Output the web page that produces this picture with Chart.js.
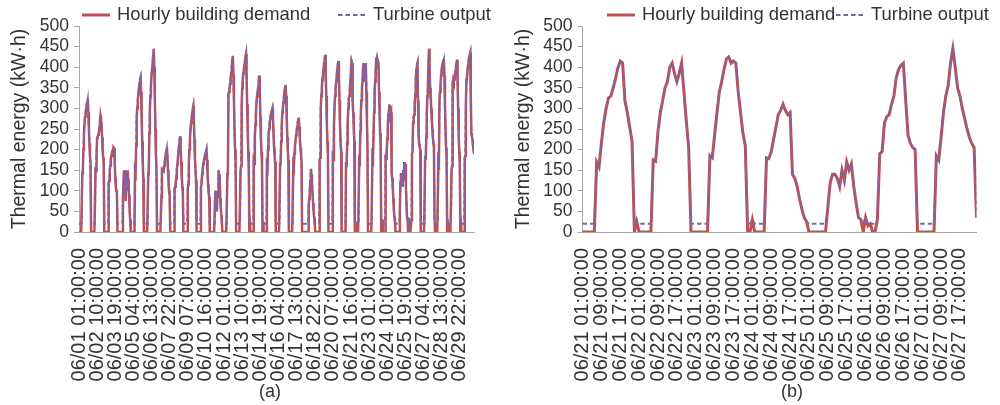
<!DOCTYPE html>
<html>
<head>
<meta charset="utf-8">
<script src="https://cdn.jsdelivr.net/npm/chart.js@4.4.1/dist/chart.umd.min.js"></script>
<style>
  html, body { margin: 0; padding: 0; background: #ffffff; }
  #wrap { position: relative; width: 1000px; height: 405px; overflow: hidden; }
  canvas { position: absolute; top: 0; }
  #month { left: 0; }
  #week { left: 500px; }
</style>
</head>
<body>
<div id="wrap">
  <canvas id="month" width="500" height="405"></canvas>
  <canvas id="week" width="500" height="405"></canvas>
</div>
<script>
// Hourly thermal energy, June, kW·h. One row per day, hours 01:00 ... 24:00.
const buildingDemand = [
  /* 06/01 */ 0,0,0,0,0,0,142,150,200,238,262,280,288,300,310,315,323,290,250,215,185,165,0,0,
  /* 06/02 */ 0,0,0,0,0,0,150,148,190,228,232,236,240,250,268,283,275,262,230,200,180,168,0,0,
  /* 06/03 */ 0,0,0,0,0,0,118,125,150,162,178,185,192,198,200,205,203,170,130,110,100,95,0,0,
  /* 06/04 */ 0,0,0,0,0,0,0,0,85,120,150,95,150,75,140,100,150,115,130,90,60,30,0,0,
  /* 06/05 */ 0,0,0,0,0,0,150,145,210,280,300,320,335,350,360,370,375,340,280,220,170,130,0,0,
  /* 06/06 */ 0,0,0,0,0,0,140,150,240,300,330,360,380,395,410,430,445,400,330,250,190,150,0,0,
  /* 06/07 */ 0,0,0,0,0,0,85,150,148,152,150,160,170,180,190,198,205,180,150,120,100,90,0,0,
  /* 06/08 */ 0,0,0,0,0,0,105,110,118,130,150,165,180,195,210,222,232,205,170,135,110,95,0,0,
  /* 06/09 */ 0,0,0,0,0,0,105,115,170,200,230,250,265,278,290,298,305,275,225,180,150,125,0,0,
  /* 06/10 */ 0,0,0,0,0,0,110,115,140,150,165,170,178,184,190,195,200,175,140,115,95,85,0,0,
  /* 06/11 */ 0,0,0,0,0,0,0,0,100,60,95,50,100,85,150,120,140,80,60,40,22,0,0,0,
  /* 06/12 */ 0,0,0,0,0,0,140,145,335,340,350,360,375,385,400,418,428,380,320,250,200,170,0,0,
  /* 06/13 */ 0,0,0,0,0,0,150,160,300,350,370,385,395,405,415,425,432,380,310,250,195,155,0,30,
  /* 06/14 */ 0,0,0,0,0,0,170,165,230,260,290,315,330,340,350,365,380,345,280,230,195,170,0,25,
  /* 06/15 */ 0,0,0,0,0,0,160,155,200,235,250,265,275,285,290,295,300,275,240,205,185,170,0,0,
  /* 06/16 */ 0,0,0,0,0,0,165,170,220,260,290,300,315,330,340,350,357,330,280,230,200,175,0,0,
  /* 06/17 */ 0,0,0,0,0,0,165,160,190,210,220,235,245,255,265,272,278,255,225,205,190,170,0,0,
  /* 06/18 */ 0,0,0,0,0,0,0,0,0,0,65,80,100,125,153,140,120,95,70,50,35,20,0,0,
  /* 06/19 */ 0,0,0,0,0,0,175,180,300,330,350,370,385,395,410,420,430,385,330,270,220,190,0,0,
  /* 06/20 */ 0,0,0,0,0,0,180,175,260,300,330,350,365,380,395,405,415,380,320,260,220,195,0,0,
  /* 06/21 */ 0,0,0,0,0,0,170,158,215,265,300,325,330,350,372,398,415,410,318,290,255,220,0,25,
  /* 06/22 */ 0,0,0,0,0,0,175,172,245,290,320,350,365,400,410,385,365,385,410,340,270,205,0,0,
  /* 06/23 */ 0,0,0,0,0,0,185,180,235,290,340,365,395,420,425,410,415,410,340,290,240,210,0,0,
  /* 06/24 */ 30,0,0,0,0,0,180,178,195,225,255,285,295,310,295,285,290,140,130,110,80,55,35,25,
  /* 06/25 */ 0,0,0,0,0,0,0,0,60,120,140,140,130,110,150,125,170,150,165,110,70,35,30,0,
  /* 06/26 */ 35,15,20,0,0,30,190,195,265,280,285,310,330,375,395,405,410,320,235,215,205,200,0,0,
  /* 06/27 */ 0,0,0,0,0,0,185,175,230,290,330,355,410,445,400,350,330,300,275,250,230,215,205,35,
  /* 06/28 */ 0,0,0,0,0,0,175,170,320,340,360,380,395,405,410,415,420,380,310,250,205,180,0,30,
  /* 06/29 */ 0,0,0,0,0,0,150,160,360,370,365,370,380,390,400,410,418,370,300,235,195,170,0,30,
  /* 06/30 */ 0,0,0,0,0,0,180,185,300,370,375,390,405,415,425,430,435,330,240,232,225,210,200,190
];

const turbineOutput = [
  /* 06/01 */ 20,20,20,20,20,20,142,150,200,238,262,280,288,300,310,315,323,290,250,215,185,165,20,20,
  /* 06/02 */ 20,20,20,20,20,20,150,148,190,228,232,236,240,250,268,283,275,262,230,200,180,168,20,20,
  /* 06/03 */ 20,20,20,20,20,20,118,125,150,162,178,185,192,198,200,205,203,170,130,110,100,95,20,20,
  /* 06/04 */ 20,20,20,20,20,20,20,20,85,120,150,95,150,75,140,100,150,115,130,90,60,30,20,20,
  /* 06/05 */ 20,20,20,20,20,20,150,145,210,280,300,320,335,350,360,370,375,340,280,220,170,130,20,20,
  /* 06/06 */ 20,20,20,20,20,20,140,150,240,300,330,360,380,395,410,430,445,400,330,250,190,150,20,20,
  /* 06/07 */ 20,20,20,20,20,20,85,150,148,152,150,160,170,180,190,198,205,180,150,120,100,90,20,20,
  /* 06/08 */ 20,20,20,20,20,20,105,110,118,130,150,165,180,195,210,222,232,205,170,135,110,95,20,20,
  /* 06/09 */ 20,20,20,20,20,20,105,115,170,200,230,250,265,278,290,298,305,275,225,180,150,125,20,20,
  /* 06/10 */ 20,20,20,20,20,20,110,115,140,150,165,170,178,184,190,195,200,175,140,115,95,85,20,20,
  /* 06/11 */ 20,20,20,20,20,20,20,20,100,60,95,50,100,85,150,120,140,80,60,40,22,20,20,20,
  /* 06/12 */ 20,20,20,20,20,20,140,145,335,340,350,360,375,385,400,418,428,380,320,250,200,170,20,20,
  /* 06/13 */ 20,20,20,20,20,20,150,160,300,350,370,385,395,405,415,425,432,380,310,250,195,155,20,30,
  /* 06/14 */ 20,20,20,20,20,20,170,165,230,260,290,315,330,340,350,365,380,345,280,230,195,170,20,25,
  /* 06/15 */ 20,20,20,20,20,20,160,155,200,235,250,265,275,285,290,295,300,275,240,205,185,170,20,20,
  /* 06/16 */ 20,20,20,20,20,20,165,170,220,260,290,300,315,330,340,350,357,330,280,230,200,175,20,20,
  /* 06/17 */ 20,20,20,20,20,20,165,160,190,210,220,235,245,255,265,272,278,255,225,205,190,170,20,20,
  /* 06/18 */ 20,20,20,20,20,20,20,20,20,20,65,80,100,125,153,140,120,95,70,50,35,20,20,20,
  /* 06/19 */ 20,20,20,20,20,20,175,180,300,330,350,370,385,395,410,420,430,385,330,270,220,190,20,20,
  /* 06/20 */ 20,20,20,20,20,20,180,175,260,300,330,350,365,380,395,405,415,380,320,260,220,195,20,20,
  /* 06/21 */ 20,20,20,20,20,20,170,158,215,265,300,325,330,350,372,398,415,410,318,290,255,220,20,25,
  /* 06/22 */ 20,20,20,20,20,20,175,172,245,290,320,350,365,400,410,385,365,385,410,340,270,205,20,20,
  /* 06/23 */ 20,20,20,20,20,20,185,180,235,290,340,365,395,420,425,410,415,410,340,290,240,210,20,20,
  /* 06/24 */ 30,20,20,20,20,20,180,178,195,225,255,285,295,310,295,285,290,140,130,110,80,55,35,25,
  /* 06/25 */ 20,20,20,20,20,20,20,20,60,120,140,140,130,110,150,125,170,150,165,110,70,35,30,20,
  /* 06/26 */ 35,20,20,20,20,30,190,195,265,280,285,310,330,375,395,405,410,320,235,215,205,200,20,20,
  /* 06/27 */ 20,20,20,20,20,20,185,175,230,290,330,355,410,445,400,350,330,300,275,250,230,215,205,35,
  /* 06/28 */ 20,20,20,20,20,20,175,170,320,340,360,380,395,405,410,415,420,380,310,250,205,180,20,30,
  /* 06/29 */ 20,20,20,20,20,20,150,160,360,370,365,370,380,390,400,410,418,370,300,235,195,170,20,30,
  /* 06/30 */ 20,20,20,20,20,20,180,185,300,370,375,390,405,415,425,430,435,330,240,232,225,210,200,190
];

// Axis labels for the month view (every 33 h) and the week view (every 8 h)
const monthTickLabels = [
  '06/01 01:00:00', '06/02 10:00:00', '06/03 19:00:00', '06/05 04:00:00',
  '06/06 13:00:00', '06/07 22:00:00', '06/09 07:00:00', '06/10 16:00:00',
  '06/12 01:00:00', '06/13 10:00:00', '06/14 19:00:00', '06/16 04:00:00',
  '06/17 13:00:00', '06/18 22:00:00', '06/20 07:00:00', '06/21 16:00:00',
  '06/23 01:00:00', '06/24 10:00:00', '06/25 19:00:00', '06/27 04:00:00',
  '06/28 13:00:00', '06/29 22:00:00'
];
const weekTickLabels = [
  '06/21 01:00:00', '06/21 09:00:00', '06/21 17:00:00',
  '06/22 01:00:00', '06/22 09:00:00', '06/22 17:00:00',
  '06/23 01:00:00', '06/23 09:00:00', '06/23 17:00:00',
  '06/24 01:00:00', '06/24 09:00:00', '06/24 17:00:00',
  '06/25 01:00:00', '06/25 09:00:00', '06/25 17:00:00',
  '06/26 01:00:00', '06/26 09:00:00', '06/26 17:00:00',
  '06/27 01:00:00', '06/27 09:00:00', '06/27 17:00:00'
];
const energyTicks = [0, 50, 100, 150, 200, 250, 300, 350, 400, 450, 500];
const monthTickStep = 33;
const weekTickStep = 8;
const weekFirstHour = 480;   // 06/21 01:00
const weekHours = 168;       // 06/21 01:00 ... 06/27 24:00

const FONT = "'Liberation Sans', Arial, Helvetica, sans-serif";
const INK = '#333333';
const AXIS = '#a6a6a6';
const RED = '#c0504d';
const PURPLE = '#7f63a8';

// Line-sample key above the plot and the panel caption below it
const panelText = {
  id: 'panelText',
  afterDraw(chart, args, o) {
    const ctx = chart.ctx;
    ctx.save();
    chart.data.datasets.forEach((ds, i) => {
      const x = o.keyX[i];
      ctx.beginPath();
      ctx.strokeStyle = ds.borderColor;
      ctx.lineWidth = o.keyLineWidth[i];
      ctx.setLineDash(ds.borderDash || []);
      ctx.moveTo(x, o.keyY);
      ctx.lineTo(x + o.keyLen, o.keyY);
      ctx.stroke();
      ctx.setLineDash([]);
      ctx.fillStyle = INK;
      ctx.font = o.keyFont + 'px ' + FONT;
      ctx.textBaseline = 'middle';
      ctx.textAlign = 'left';
      ctx.fillText(ds.label, x + o.keyLen + o.keyGap, o.keyY);
    });
    ctx.fillStyle = INK;
    ctx.font = o.captionFont + 'px ' + FONT;
    ctx.textAlign = 'center';
    ctx.textBaseline = 'middle';
    ctx.fillText(o.caption, o.captionX, o.captionY);
    ctx.restore();
  }
};

function toPoints(values) {
  return values.map((v, i) => ({ x: i, y: v }));
}

function drawPanel(canvasId, demand, turbine, tickLabels, tickStep, layout) {
  return new Chart(document.getElementById(canvasId), {
    type: 'line',
    data: {
      datasets: [
        {
          label: 'Hourly building demand',
          data: toPoints(demand),
          borderColor: RED,
          borderWidth: layout.redWidth,
          pointRadius: 0,
          tension: 0,
          order: 1
        },
        {
          label: 'Turbine output',
          data: toPoints(turbine),
          borderColor: PURPLE,
          borderWidth: layout.dashWidth,
          borderDash: [4.5, 3],
          pointRadius: 0,
          tension: 0,
          order: 0
        }
      ]
    },
    options: {
      responsive: false,
      animation: false,
      devicePixelRatio: 1,
      layout: { padding: { top: 26, left: layout.left, right: layout.right, bottom: 0 } },
      plugins: {
        legend: { display: false },
        tooltip: { enabled: false },
        panelText: {
          keyX: layout.keyX, keyY: 15, keyLen: 28, keyGap: 7, keyFont: 18.4,
          keyLineWidth: [3, 2],
          caption: layout.caption, captionX: layout.captionX, captionY: 392, captionFont: 18
        }
      },
      scales: {
        x: {
          type: 'linear',
          min: 0,
          max: demand.length - 1,
          grid: { display: false, drawTicks: false },
          border: { display: true, color: AXIS, width: 1 },
          ticks: {
            autoSkip: false,
            minRotation: 90,
            maxRotation: 90,
            padding: 16,
            color: INK,
            font: { family: FONT, size: 20 },
            callback: (v, i) => tickLabels[i]
          },
          afterBuildTicks(scale) {
            scale.ticks = tickLabels.map((_, k) => ({ value: k * tickStep }));
          },
          afterFit(scale) { scale.height = 173; }
        },
        y: {
          min: 0,
          max: 500,
          ticks: { autoSkip: false, color: INK, font: { family: FONT, size: 17.5 }, padding: 5 },
          afterBuildTicks(scale) {
            scale.ticks = energyTicks.map(v => ({ value: v }));
          },
          grid: { drawOnChartArea: false, drawTicks: true, tickLength: 5, color: AXIS },
          border: { display: true, color: AXIS, width: 1 },
          title: {
            display: true,
            text: 'Thermal energy (kW·h)',
            color: INK,
            font: { family: FONT, size: 19.5 },
            padding: { top: 8, bottom: 0 }
          },
          afterFit(scale) { scale.width = 79; }
        }
      }
    },
    plugins: [panelText]
  });
}

drawPanel('month', buildingDemand, turbineOutput, monthTickLabels, monthTickStep, {
  left: 0, right: 6, redWidth: 2.5, dashWidth: 2,
  keyX: [82, 338], caption: '(a)', captionX: 270
});

drawPanel('week',
  buildingDemand.slice(weekFirstHour, weekFirstHour + weekHours),
  turbineOutput.slice(weekFirstHour, weekFirstHour + weekHours),
  weekTickLabels, weekTickStep, {
  left: 3.5, right: 1, redWidth: 3, dashWidth: 2,
  keyX: [107, 336], caption: '(b)', captionX: 292
});
</script>
</body>
</html>
